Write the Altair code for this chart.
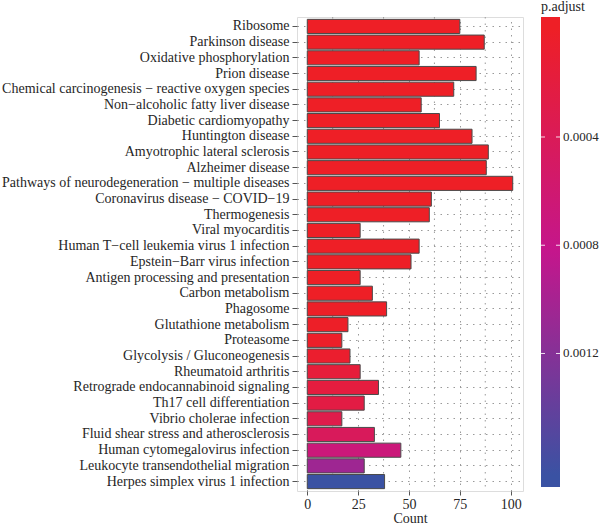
import altair as alt
import pandas as pd

terms = [
    "Ribosome", "Parkinson disease", "Oxidative phosphorylation", "Prion disease",
    "Chemical carcinogenesis \u2212 reactive oxygen species", "Non\u2212alcoholic fatty liver disease",
    "Diabetic cardiomyopathy", "Huntington disease", "Amyotrophic lateral sclerosis",
    "Alzheimer disease", "Pathways of neurodegeneration \u2212 multiple diseases",
    "Coronavirus disease \u2212 COVID\u221219", "Thermogenesis", "Viral myocarditis",
    "Human T\u2212cell leukemia virus 1 infection", "Epstein\u2212Barr virus infection",
    "Antigen processing and presentation", "Carbon metabolism", "Phagosome",
    "Glutathione metabolism", "Proteasome", "Glycolysis / Gluconeogenesis",
    "Rheumatoid arthritis", "Retrograde endocannabinoid signaling", "Th17 cell differentiation",
    "Vibrio cholerae infection", "Fluid shear stress and atherosclerosis",
    "Human cytomegalovirus infection", "Leukocyte transendothelial migration",
    "Herpes simplex virus 1 infection",
]
counts = [75, 87, 55, 83, 72, 56, 65, 81, 89, 88, 101, 61, 60, 26, 55, 51, 26, 32, 39,
          20, 17, 21, 26, 35, 28, 17, 33, 46, 28, 38]
padj = [1.5e-30, 3.2e-28, 1.1e-25, 4.6e-25, 2.3e-22, 5.8e-20, 1.2e-19, 3.5e-19, 6.4e-19,
        1.1e-18, 2.6e-18, 1.9e-12, 3.4e-11, 6.1e-9, 2.2e-8, 3.7e-8, 5.1e-7, 3.1e-6, 4.4e-6,
        1.6e-5, 2.7e-5, 6.3e-5, 1.6e-4, 2.0e-4, 2.4e-4, 3.0e-4, 4.3e-4, 6.8e-4, 1.05e-3, 1.65e-3]
x_ticks = [0, 25, 50, 75, 100]
minor_grid = [12.5, 37.5, 62.5, 87.5]
legend_ticks = [0.0004, 0.0008, 0.0012]
legend_title = "p.adjust"

df = pd.DataFrame({"Description": terms, "Count": counts, "padj": padj})
grid_df = pd.DataFrame({"g": minor_grid})
tick_df = pd.DataFrame({"t": legend_ticks})
one_df = pd.DataFrame({"title": [legend_title]})

dmin, dmax = min(padj), max(padj)
FONT = "Liberation Serif"
TXT = "#262626"
GRID = "#9a9a9a"
RED, MAG, BLUE = "#EE1F26", "#C4168C", "#3A52A3"

xscale = alt.Scale(domain=[-5.05, 106.05], nice=False, zero=False)

minor = alt.Chart(grid_df).mark_rule(color=GRID, strokeWidth=1, strokeDash=[1.5, 5]).encode(
    x=alt.X("g:Q", scale=xscale, title="Count")
)

bars = alt.Chart(df).mark_bar(stroke="#4a4a4a", strokeWidth=1).encode(
    y=alt.Y("Description:N", sort=terms, title=None,
            scale=alt.Scale(paddingInner=0.1, paddingOuter=0.15),
            axis=alt.Axis(labelFont=FONT, labelFontSize=14, labelColor=TXT, tickColor="#555",
                          tickSize=5, domain=False, grid=True, gridColor=GRID,
                          gridDash=[1.5, 5], labelPadding=3, labelLimit=400)),
    x=alt.X("Count:Q", scale=xscale, title="Count",
            axis=alt.Axis(values=x_ticks, labelFont=FONT, labelFontSize=14, labelColor=TXT,
                          titleFont=FONT, titleFontSize=14, titleColor=TXT, titleFontWeight="normal",
                          tickColor="#555", tickSize=4, domain=False, grid=True, gridColor=GRID,
                          gridDash=[1.5, 5], labelPadding=2, titlePadding=0)),
    color=alt.Color("padj:Q",
                    scale=alt.Scale(domain=[dmin, (dmin + dmax) / 2, dmax],
                                    range=[RED, MAG, BLUE], interpolate="rgb"),
                    legend=None),
)

# colour bar (drawn by hand so that small values sit at the top, as in the reference)
CB_X, CB_W, CB_LEN, INSET = 244, 19, 470, 0.025
cb_scale = alt.Scale(domain=[dmin, dmax], range=[CB_LEN * INSET, CB_LEN * (1 - INSET)])

cbar = alt.Chart(one_df).mark_rect(
    fill=alt.LinearGradient(
        gradient="linear", x1=0, x2=0, y1=0, y2=1,
        stops=[alt.GradientStop(offset=0, color=RED), alt.GradientStop(offset=INSET, color=RED),
               alt.GradientStop(offset=0.5, color=MAG),
               alt.GradientStop(offset=1 - INSET, color=BLUE), alt.GradientStop(offset=1, color=BLUE)])
).encode(x=alt.value(CB_X), x2=alt.value(CB_X + CB_W), y=alt.value(0), y2=alt.value(CB_LEN))

cb_ticks_l = alt.Chart(tick_df).mark_rule(color="white", strokeWidth=1, opacity=0.85).encode(
    y=alt.Y("t:Q", scale=cb_scale, axis=None), x=alt.value(CB_X), x2=alt.value(CB_X + 4))
cb_ticks_r = alt.Chart(tick_df).mark_rule(color="white", strokeWidth=1, opacity=0.85).encode(
    y=alt.Y("t:Q", scale=cb_scale, axis=None), x=alt.value(CB_X + CB_W - 4), x2=alt.value(CB_X + CB_W))
cb_labels = alt.Chart(tick_df).mark_text(align="left", baseline="middle", font=FONT, fontSize=13,
                                          color=TXT).encode(
    y=alt.Y("t:Q", scale=cb_scale, axis=None), x=alt.value(CB_X + CB_W + 3),
    text=alt.Text("t:Q", format=".4f"))
cb_title = alt.Chart(one_df).mark_text(align="left", baseline="middle", font=FONT, fontSize=14,
                                        color=TXT).encode(
    x=alt.value(CB_X), y=alt.value(-10), text="title:N")

chart = alt.layer(minor, bars, cbar, cb_ticks_l, cb_ticks_r, cb_labels, cb_title).resolve_scale(
    y="independent"
).properties(
    width=226, height=474,
    padding={"left": 297, "top": 17, "right": 77, "bottom": 36},
    autosize=alt.AutoSizeParams(type="none"),
).configure_view(stroke="#666666", strokeWidth=1).configure(background="white")

chart.save("out.html", embed_options={"renderer": "svg", "actions": False})
